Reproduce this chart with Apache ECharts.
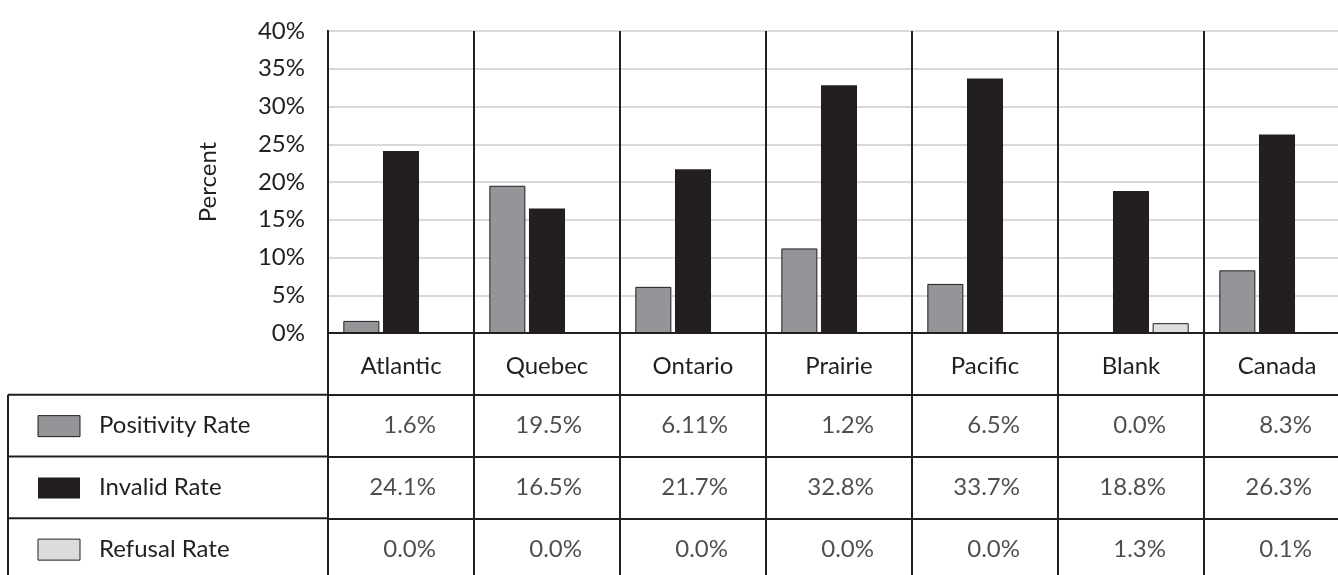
<!DOCTYPE html>
<html>
<head>
<meta charset="utf-8">
<script src="https://cdn.jsdelivr.net/npm/echarts@6/dist/echarts.min.js"></script>
<style>
  html, body { margin: 0; padding: 0; background: #ffffff; overflow: hidden; width: 1338px; height: 575px; }
  /* the plot and table run past the right and bottom edges of the page */
  #chart { width: 1380px; height: 600px; }
</style>
</head>
<body>
<div id="chart"></div>
<script>
// Regions shown along the x axis and as table columns
const categories = ['Atlantic', 'Quebec', 'Ontario', 'Prairie', 'Pacific', 'Blank', 'Canada'];
const seriesNames = ['Positivity Rate', 'Invalid Rate', 'Refusal Rate'];

// Bar values (percent)
const positivityRate = [1.6, 19.5, 6.11, 11.2, 6.5, 0.0, 8.3];
const invalidRate = [24.1, 16.5, 21.7, 32.8, 33.7, 18.8, 26.3];
const refusalRate = [0.0, 0.0, 0.0, 0.0, 0.0, 1.3, 0.1];

// Text printed in the data table under the chart
const positivityText = ['1.6%', '19.5%', '6.11%', '1.2%', '6.5%', '0.0%', '8.3%'];
const invalidText = ['24.1%', '16.5%', '21.7%', '32.8%', '33.7%', '18.8%', '26.3%'];
const refusalText = ['0.0%', '0.0%', '0.0%', '0.0%', '0.0%', '1.3%', '0.1%'];

// Value axis ticks
const yMin = 0, yMax = 40, yStep = 5;

const INK = '#231f20';
const FONT = 'Lato';
const FS = 24;
const colors = ['#939598', '#231f20', '#dcddde'];
const tableRows = ['', ...seriesNames];
const tableText = [positivityText, invalidText, refusalText];

const cellData = [];
tableText.forEach((row, i) => {
  row.forEach((txt, j) => cellData.push([categories[j], seriesNames[i], txt]));
});

const chart = echarts.init(document.getElementById('chart'), null, { renderer: 'canvas' });

const barStyle = (i) => ({
  color: colors[i],
  borderColor: i === 1 ? colors[1] : INK,
  borderWidth: i === 1 ? 0 : 1
});

chart.setOption({
  animation: false,
  textStyle: { fontFamily: FONT, color: INK },
  grid: [
    { left: 328, top: 31, width: 1022, height: 302, show: true, borderColor: INK, borderWidth: 2, backgroundColor: 'transparent' },
    { left: 328, top: 333, width: 1022, height: 247, show: false }
  ],
  xAxis: [
    {
      type: 'category', gridIndex: 0, data: categories,
      axisLine: { show: true, lineStyle: { color: INK, width: 2 } },
      axisTick: { show: false },
      axisLabel: { show: true, fontFamily: FONT, fontSize: FS, color: INK, margin: 33, verticalAlign: 'middle', interval: 0 },
      splitLine: { show: true, interval: 0, lineStyle: { color: INK, width: 2 } }
    },
    {
      type: 'category', gridIndex: 1, data: categories,
      axisLine: { show: false }, axisTick: { show: false }, axisLabel: { show: false },
      splitLine: { show: true, interval: 0, lineStyle: { color: INK, width: 2 } }
    }
  ],
  yAxis: [
    {
      type: 'value', gridIndex: 0, min: yMin, max: yMax, interval: yStep,
      name: 'Percent', nameLocation: 'middle', nameGap: 108, nameRotate: 90,
      nameTextStyle: { fontFamily: FONT, fontSize: FS, color: INK },
      axisLine: { show: true, lineStyle: { color: INK, width: 2 } },
      axisTick: { show: false },
      axisLabel: { fontFamily: FONT, fontSize: FS, color: INK, margin: 23, formatter: '{value}%' },
      splitLine: { show: true, lineStyle: { color: '#d9d9d9', width: 2 } }
    },
    {
      type: 'category', gridIndex: 1, data: tableRows, inverse: true,
      axisLine: { show: true, lineStyle: { color: INK, width: 2 } },
      axisTick: { show: false }, axisLabel: { show: false },
      splitLine: { show: true, interval: 0, lineStyle: { color: INK, width: 2 } }
    }
  ],
  series: [
    { name: seriesNames[0], type: 'bar', xAxisIndex: 0, yAxisIndex: 0, data: positivityRate, itemStyle: barStyle(0), barCategoryGap: '21%', barGap: '10%' },
    { name: seriesNames[1], type: 'bar', xAxisIndex: 0, yAxisIndex: 0, data: invalidRate, itemStyle: barStyle(1), barCategoryGap: '21%', barGap: '10%' },
    { name: seriesNames[2], type: 'bar', xAxisIndex: 0, yAxisIndex: 0, data: refusalRate, itemStyle: barStyle(2), barCategoryGap: '21%', barGap: '10%' },
    {
      name: 'table', type: 'scatter', xAxisIndex: 1, yAxisIndex: 1,
      data: cellData, symbolSize: 0, silent: true,
      encode: { x: 0, y: 1 },
      label: {
        show: true, position: 'inside', align: 'right', verticalAlign: 'middle', offset: [35, 0],
        fontFamily: FONT, fontSize: FS, color: INK,
        formatter: (p) => p.data[2]
      }
    }
  ]
});

// Row-label column of the data table: borders, legend keys and series names
function drawRowLabels() {
  const left = 8, right = 328;
  const elements = [];
  const rowH = chart.convertToPixel({ yAxisIndex: 1 }, seriesNames[1]) - chart.convertToPixel({ yAxisIndex: 1 }, seriesNames[0]);
  const firstTop = chart.convertToPixel({ yAxisIndex: 1 }, seriesNames[0]) - rowH / 2;
  for (let k = 0; k < seriesNames.length; k++) {
    const y = firstTop + k * rowH;
    elements.push({ type: 'line', shape: { x1: left, y1: y, x2: right, y2: y }, style: { stroke: INK, lineWidth: 2 } });
  }
  elements.push({ type: 'line', shape: { x1: left, y1: firstTop, x2: left, y2: 620 }, style: { stroke: INK, lineWidth: 2 } });
  seriesNames.forEach((nm, i) => {
    const cy = chart.convertToPixel({ yAxisIndex: 1 }, nm);
    elements.push({
      type: 'rect', shape: { x: 38, y: cy - 10, width: 42, height: 21 },
      style: { fill: colors[i], stroke: INK, lineWidth: i === 1 ? 0 : 1 }
    });
    elements.push({
      type: 'text', x: 99, y: cy,
      style: { text: nm, fontFamily: FONT, fontSize: FS, fill: INK, verticalAlign: 'middle', align: 'left' }
    });
  });
  chart.setOption({ graphic: { elements } });
}
drawRowLabels();
</script>
</body>
</html>
